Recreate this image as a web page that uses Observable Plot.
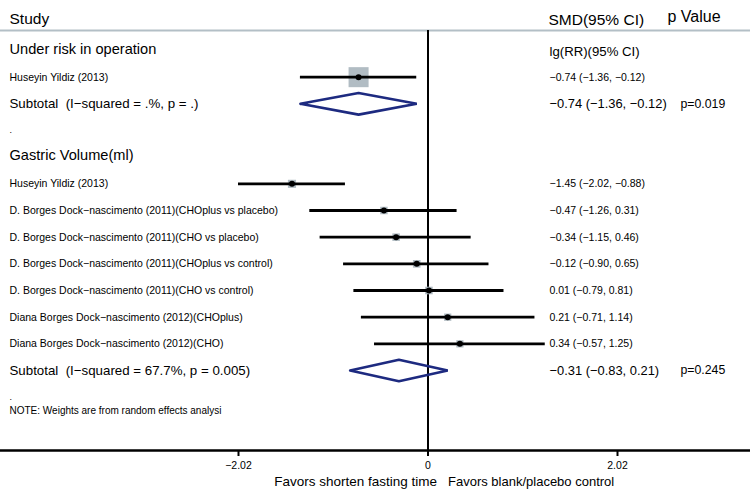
<!DOCTYPE html>
<html>
<head>
<meta charset="utf-8">
<script src="https://cdn.jsdelivr.net/npm/d3@7"></script>
<script src="https://cdn.jsdelivr.net/npm/@observablehq/plot@0.6"></script>
<style>
  html, body { margin: 0; padding: 0; background: #fff; }
</style>
</head>
<body>
<div id="chart"></div>
<script>
// ---- data ----
const groupLabels = ["Under risk in operation", "Gastric Volume(ml)"];

const g1Studies = ["Huseyin Yildiz (2013)"];
const g1Est = [-0.74];
const g1Lci = [-1.36];
const g1Uci = [-0.12];
const g1Weight = [100];

const g2Studies = [
  "Huseyin Yildiz (2013)",
  "D. Borges Dock\u2212nascimento (2011)(CHOplus vs placebo)",
  "D. Borges Dock\u2212nascimento (2011)(CHO vs placebo)",
  "D. Borges Dock\u2212nascimento (2011)(CHOplus vs control)",
  "D. Borges Dock\u2212nascimento (2011)(CHO vs control)",
  "Diana Borges Dock\u2212nascimento (2012)(CHOplus)",
  "Diana Borges Dock\u2212nascimento (2012)(CHO)"
];
const g2Est = [-1.45, -0.47, -0.34, -0.12, 0.01, 0.21, 0.34];
const g2Lci = [-2.02, -1.26, -1.15, -0.90, -0.79, -0.71, -0.57];
const g2Uci = [-0.88, 0.31, 0.46, 0.65, 0.81, 1.14, 1.25];
const g2Weight = [16.5, 14.0, 14.2, 14.5, 14.4, 13.2, 13.2];

const subtotalLabels = [
  "Subtotal  (I\u2212squared = .%, p = .)",
  "Subtotal  (I\u2212squared = 67.7%, p = 0.005)"
];
const subEst = [-0.74, -0.31];
const subLci = [-1.36, -0.83];
const subUci = [-0.12, 0.21];
const subP = ["p=0.019", "p=0.245"];

const headerLabels = ["Study", "SMD(95% CI)", "p Value"];
const effectLabel = "lg(RR)(95% CI)";
const noteLabel = "NOTE: Weights are from random effects analysi";
const tickValues = [-2.02, 0, 2.02];
const tickLabels = ["\u22122.02", "0", "2.02"];
const axisTitles = ["Favors shorten fasting time", "Favors blank/placebo control"];

// ---- build rows ----
const fmt = v => v.toFixed(2).replace("-", "\u2212");
const ci = (e, l, u) => `${fmt(e)} (${fmt(l)}, ${fmt(u)})`;

const groups = [
  {label: groupLabels[0], names: g1Studies, est: g1Est, lci: g1Lci, uci: g1Uci, w: g1Weight},
  {label: groupLabels[1], names: g2Studies, est: g2Est, lci: g2Lci, uci: g2Uci, w: g2Weight}
];

const groupRows = [], studyRows = [], subRows = [], dotRows = [];
let row = 0;
groups.forEach((g, gi) => {
  groupRows.push({row, label: g.label});
  row++;
  g.names.forEach((n, i) => {
    studyRows.push({row, label: n, est: g.est[i], lci: g.lci[i], uci: g.uci[i], w: g.w[i]});
    row++;
  });
  subRows.push({row, label: subtotalLabels[gi], est: subEst[gi], lci: subLci[gi], uci: subUci[gi], p: subP[gi]});
  row++;
  dotRows.push({row, label: "."});
  row++;
});
const noteRow = row - 0.5;
const lastRow = row + 1;      // axis baseline row
const headerLineRow = -0.75;
const halfH = 0.405;

const diamondPts = subRows.flatMap((s, k) => [
  {k, x: s.lci, y: s.row},
  {k, x: s.est, y: s.row - halfH},
  {k, x: s.uci, y: s.row},
  {k, x: s.est, y: s.row + halfH},
  {k, x: s.lci, y: s.row}
]);

const navy = "#1d2a80";
const font = "'Liberation Sans', Arial, Helvetica, sans-serif";

const chart = Plot.plot({
  width: 750,
  height: 494,
  marginTop: 0,
  marginLeft: 0,
  marginRight: 0,
  marginBottom: 44,
  x: {domain: [-2.02, 2.02], range: [238, 617]},
  y: {domain: [0, lastRow], range: [50, 450], axis: null},
  r: {type: "sqrt", domain: [0, 100], range: [0, 11.3]},
  style: {fontFamily: font, color: "#000", background: "#fff"},
  marks: [
    // header line
    Plot.ruleY([headerLineRow], {stroke: "#b3bfc6", strokeWidth: 2}),
    // zero line
    Plot.ruleX([0], {y1: headerLineRow, y2: lastRow, stroke: "#000", strokeWidth: 2}),
    // axis baseline
    Plot.ruleY([lastRow], {stroke: "#000", strokeWidth: 2.5}),
    Plot.axisX({ticks: tickValues, tickFormat: d => tickLabels[tickValues.indexOf(d)], tickSize: 6, tickPadding: 5, fontSize: 10.5, strokeWidth: 2, stroke: "#000", fill: "#000", label: null}),
    // axis titles
    Plot.text([axisTitles[0]], {x: () => 0, text: d => d, frameAnchor: "bottom", dy: 35, dx: 9, textAnchor: "end", fontSize: 13.5}),
    Plot.text([axisTitles[1]], {x: () => 0, text: d => d, frameAnchor: "bottom", dy: 35, dx: 20, textAnchor: "start", fontSize: 13}),
    // headers
    Plot.text([headerLabels[0]], {text: d => d, frameAnchor: "top-left", dx: 9, dy: 12, textAnchor: "start", fontSize: 15.5}),
    Plot.text([headerLabels[1]], {text: d => d, frameAnchor: "top-left", dx: 548, dy: 13, textAnchor: "start", fontSize: 15.5}),
    Plot.text([headerLabels[2]], {text: d => d, frameAnchor: "top-left", dx: 667, dy: 10, textAnchor: "start", fontSize: 16}),
    // group labels
    Plot.text(groupRows, {y: "row", text: "label", frameAnchor: "left", dx: 9, dy: -1.5, textAnchor: "start", fontSize: 14.6}),
    Plot.text(groupRows.slice(0, 1), {y: "row", text: () => effectLabel, frameAnchor: "left", dx: 549, dy: 1.5, textAnchor: "start", fontSize: 13.2}),
    // study labels
    Plot.text(studyRows, {y: "row", text: "label", frameAnchor: "left", dx: 9, textAnchor: "start", fontSize: 10.5}),
    Plot.text(studyRows, {y: "row", text: d => ci(d.est, d.lci, d.uci), frameAnchor: "left", dx: 549, textAnchor: "start", fontSize: 10.5}),
    // subtotal labels
    Plot.text(subRows, {y: "row", text: "label", frameAnchor: "left", dx: 9, textAnchor: "start", fontSize: 13.3}),
    Plot.text(subRows, {y: "row", text: d => ci(d.est, d.lci, d.uci), frameAnchor: "left", dx: 549, textAnchor: "start", fontSize: 12.9}),
    Plot.text(subRows, {y: "row", text: "p", frameAnchor: "left", dx: 680, textAnchor: "start", fontSize: 12.3}),
    // dots and note
    Plot.text(dotRows, {y: "row", text: "label", frameAnchor: "left", dx: 9, textAnchor: "start", fontSize: 9}),
    Plot.text([noteLabel], {y: () => noteRow, text: d => d, frameAnchor: "left", dx: 9, textAnchor: "start", fontSize: 10}),
    // weight squares
    Plot.dot(studyRows, {x: "est", y: "row", r: "w", symbol: "square", fill: "#b1bcc3", stroke: "none"}),
    // CI lines
    Plot.ruleY(studyRows, {y: "row", x1: "lci", x2: "uci", stroke: "#000", strokeWidth: 2.8}),
    // point estimates
    Plot.dot(studyRows, {x: "est", y: "row", r: 3, fill: "#000", stroke: "none"}),
    // subtotal diamonds
    Plot.line(diamondPts, {x: "x", y: "y", z: "k", stroke: navy, strokeWidth: 2.6, strokeLinejoin: "miter"})
  ]
});
document.getElementById("chart").appendChild(chart);
</script>
</body>
</html>
